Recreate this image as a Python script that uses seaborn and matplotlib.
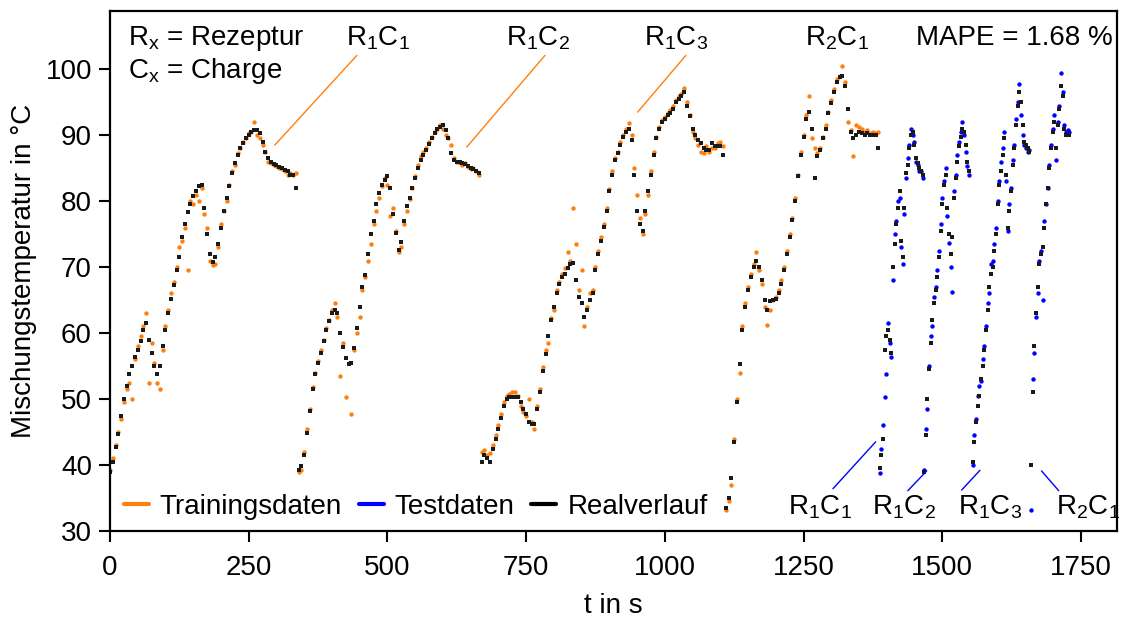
import numpy as np
import pandas as pd
import seaborn as sns
import matplotlib.pyplot as plt
from matplotlib.lines import Line2D

# Trainingsdaten (Startzeit in s, Abtastschritt 5 s)
train_names = ['R1C1', 'R1C2', 'R1C3', 'R2C1']
train_start = [0, 340, 670, 1110]
train_step = 5

real_train_r1c1 = [39.0, 40.5, 42.8, 44.7, 47.5, 50.0, 52.0, 53.8, 55.0, 56.3,
                   57.5, 58.8, 60.5, 61.5, 59.0, 57.0, 55.0, 53.8, 55.0, 58.0,
                   60.5, 63.0, 65.2, 67.3, 69.5, 71.5, 74.5, 76.5, 78.3, 79.5,
                   80.8, 81.5, 82.3, 82.5, 79.0, 75.0, 72.0, 70.8, 71.5, 73.5,
                   76.0, 78.5, 80.5, 82.3, 84.3, 85.8, 87.0, 88.0, 88.8, 89.5,
                   90.0, 90.5, 90.8, 90.8, 90.3, 89.0, 87.5, 86.5, 86.0, 85.7,
                   85.5, 85.2, 85.0, 84.7, 84.5, 84.0, 84.0, 82.0]
pred_train_r1c1 = [39.2, 41.0, 43.0, 45.0, 47.0, 49.5, 51.5, 52.5, 50.0, 56.0,
                   58.0, 59.5, 61.0, 63.0, 52.5, 58.5, 55.5, 52.5, 51.5, 57.5,
                   61.0, 63.5, 66.0, 67.8, 70.0, 73.0, 74.0, 76.0, 69.5, 80.0,
                   79.5, 81.0, 80.0, 82.0, 78.0, 76.0, 71.0, 70.3, 70.5, 73.0,
                   76.5, 78.5, 80.0, 82.5, 84.5, 85.5, 87.3, 88.0, 89.0, 89.5,
                   90.3, 90.5, 92.0, 90.0, 89.5, 88.5, 87.5, 86.0, 85.8, 85.5,
                   85.3, 85.0, 84.8, 84.5, 84.0, 84.3, 84.0, 84.3]

real_train_r1c2 = [39.2, 39.8, 41.5, 44.8, 48.2, 51.5, 53.8, 55.5, 57.0, 58.8,
                   60.4, 61.8, 63.0, 63.5, 63.0, 60.0, 57.9, 56.2, 55.3, 55.5,
                   57.8, 60.8, 64.0, 67.0, 68.8, 72.0, 75.0, 77.0, 79.5, 81.3,
                   82.5, 83.2, 83.8, 82.0, 78.0, 75.1, 72.6, 73.8, 77.0, 79.3,
                   80.5, 82.0, 83.5, 85.0, 86.3, 87.0, 87.7, 88.7, 89.6, 90.3,
                   90.9, 91.3, 91.5, 90.8, 89.5, 87.3, 86.3, 86.0, 86.0, 85.8,
                   85.6, 85.3, 85.0, 84.8, 84.5, 84.2]
pred_train_r1c2 = [39.0, 39.3, 42.0, 45.5, 48.5, 51.8, 54.0, 55.8, 57.5, 59.0,
                   60.8, 62.0, 63.5, 64.5, 62.5, 53.5, 58.5, 50.3, 55.5, 47.7,
                   57.5, 60.0, 62.5, 66.5, 68.5, 71.0, 73.5, 76.5, 78.5, 80.5,
                   82.3, 83.5, 82.5, 77.7, 79.0, 75.5, 72.3, 73.0, 76.5, 78.5,
                   80.3, 82.0, 83.8, 85.5, 86.8, 87.5, 88.0, 89.0, 89.8, 90.5,
                   91.0, 91.5, 91.0, 90.0, 89.5, 88.5, 86.5, 86.0, 85.8, 85.5,
                   85.8, 85.2, 84.8, 85.0, 84.6, 84.0]

real_train_r1c3 = [40.5, 41.5, 41.0, 40.5, 42.5, 44.0, 45.5, 47.2, 49.0, 50.0,
                   50.3, 50.3, 50.3, 50.3, 49.5, 48.5, 47.7, 46.5, 46.2, 46.2,
                   48.5, 51.0, 54.3, 56.8, 59.5, 62.0, 64.0, 66.0, 67.5, 68.5,
                   69.0, 69.8, 70.5, 70.6, 68.0, 65.5, 64.5, 62.5, 63.5, 65.0,
                   66.0, 69.5, 72.0, 74.0, 76.1, 78.5, 81.5, 84.0, 86.3, 87.3,
                   88.5, 89.8, 90.5, 91.0, 89.3, 84.0, 78.5, 76.6, 75.5, 78.5,
                   81.5, 84.0, 87.0, 89.5, 91.0, 92.0, 92.5, 93.0, 93.3, 94.0,
                   95.0, 95.5, 96.0, 96.5, 94.5, 92.9, 91.0, 90.0, 89.3, 88.8,
                   88.0, 87.8, 87.8, 88.8, 88.3, 88.3, 88.3, 87.0]
pred_train_r1c3 = [42.0, 42.3, 41.5, 41.8, 43.0, 44.5, 46.0, 47.8, 49.5, 50.5,
                   50.8, 51.0, 51.0, 50.5, 49.0, 48.0, 47.5, 50.0, 46.5, 45.5,
                   49.0, 51.5, 54.8, 57.5, 58.5, 62.3, 63.5, 66.5, 67.8, 69.0,
                   69.8, 72.3, 71.0, 79.0, 73.5, 66.5, 69.5, 61.0, 64.0, 66.0,
                   66.5, 70.0, 72.5, 74.5, 76.5, 79.0, 81.8, 84.5, 86.5, 87.5,
                   89.0, 90.0, 91.0, 91.8, 90.0, 85.0, 81.0, 77.5, 75.0, 78.0,
                   81.0, 84.5, 87.5, 89.8, 91.3, 92.3, 92.8, 93.3, 93.8, 94.5,
                   95.3, 96.0, 96.3, 97.2, 95.0, 93.0, 90.5, 89.5, 88.5, 87.5,
                   87.3, 88.3, 87.5, 88.0, 88.0, 88.8, 89.0, 88.3]

real_train_r2c1 = [33.5, 35.0, 38.0, 43.5, 49.5, 55.3, 60.5, 64.0, 66.5, 68.5,
                   70.0, 71.0, 70.0, 68.0, 65.0, 63.5, 64.8, 65.0, 65.2, 66.0,
                   67.5, 69.5, 72.0, 74.6, 77.2, 80.0, 83.8, 87.0, 89.8, 92.5,
                   93.5, 91.0, 83.5, 86.8, 87.8, 89.5, 91.0, 93.3, 94.9, 96.5,
                   98.0, 98.8, 99.0, 97.5, 94.0, 90.5, 89.5, 90.0, 90.5, 90.3,
                   90.0, 90.3, 90.0, 90.0, 90.0, 88.0]
pred_train_r2c1 = [33.2, 34.5, 37.0, 44.0, 50.0, 54.0, 61.0, 64.5, 67.0, 69.0,
                   70.5, 72.3, 69.5, 67.5, 64.0, 61.2, 63.5, 65.0, 65.5, 66.5,
                   68.0, 70.0, 72.5, 75.0, 77.5, 80.5, 84.0, 87.5, 90.0, 93.0,
                   95.9, 89.5, 88.0, 87.3, 88.0, 89.8, 91.5, 93.5, 95.3, 97.0,
                   98.5, 99.0, 100.5, 98.0, 92.0, 90.8, 86.8, 91.5, 91.3, 91.0,
                   90.5, 90.8, 90.3, 90.5, 90.3, 90.5]

# Testdaten (Startzeit in s, Abtastschritt 3 s)
test_names = ['R1C1', 'R1C2', 'R1C3', 'R2C1']
test_start = [1387, 1467, 1555, 1660]
test_step = 3

real_test_r1c1 = [39.5, 41.5, 44.0, 57.5, 59.5, 60.5, 59.0, 57.0, 70.0, 73.5,
                  76.5, 79.0, 81.5, 74.0, 71.5, 79.0, 84.3, 85.5, 88.0, 90.0,
                  90.5, 88.5, 86.5, 85.8, 85.0, 84.5, 84.0]
pred_test_r1c1 = [38.8, 42.5, 46.0, 50.3, 53.8, 61.5, 58.5, 56.3, 68.0, 75.0,
                  77.0, 80.0, 80.5, 73.0, 70.5, 78.0, 83.5, 86.5, 88.5, 91.0,
                  90.0, 89.0, 86.0, 85.5, 84.5, 84.5, 83.5]

real_test_r1c2 = [39.0, 44.5, 50.0, 54.5, 58.5, 62.0, 64.5, 66.5, 68.5, 71.5,
                  75.5, 79.5, 82.5, 84.0, 79.0, 75.0, 72.0, 74.5, 80.5, 83.5,
                  86.0, 88.3, 89.8, 91.0, 90.5, 88.5, 86.0, 84.5]
pred_test_r1c2 = [39.2, 45.5, 48.5, 55.0, 59.5, 61.0, 65.5, 67.0, 69.5, 72.5,
                  76.5, 80.5, 83.0, 85.0, 77.7, 73.6, 70.0, 66.2, 81.5, 84.0,
                  87.0, 89.0, 90.5, 92.0, 90.0, 87.5, 85.3, 84.0]

real_test_r1c3 = [40.5, 43.5, 46.5, 49.0, 50.5, 53.0, 55.0, 57.4, 60.5, 63.5,
                  67.0, 69.0, 70.0, 72.5, 75.0, 79.5, 82.5, 84.5, 87.0, 89.5,
                  84.0, 76.0, 78.5, 81.5, 85.5, 88.0, 91.5, 94.5, 96.5, 95.0,
                  91.5, 89.0, 88.5, 88.0, 87.5]
pred_test_r1c3 = [40.0, 44.5, 47.0, 50.5, 52.0, 52.8, 56.0, 58.0, 61.0, 64.5,
                  66.0, 70.5, 71.0, 73.5, 76.0, 80.0, 83.0, 86.0, 88.0, 90.5,
                  83.0, 75.5, 79.5, 82.0, 86.3, 88.5, 92.5, 95.0, 97.7, 93.0,
                  90.0, 88.5, 88.0, 87.5, 87.8]

real_test_r2c1 = [40.0, 51.0, 58.0, 63.0, 67.0, 70.5, 72.0, 73.0, 76.0, 79.5,
                  82.0, 85.0, 88.0, 90.5, 92.0, 88.0, 91.5, 94.0, 97.5, 96.0,
                  91.0, 90.0, 90.0, 90.0]
pred_test_r2c1 = [33.2, 53.0, 57.0, 62.5, 66.0, 71.0, 72.5, 65.0, 77.0, 79.5,
                  82.0, 85.5, 88.5, 91.0, 93.0, 86.3, 92.0, 94.5, 99.5, 96.5,
                  91.5, 90.5, 90.8, 90.5]

real_train = [real_train_r1c1, real_train_r1c2, real_train_r1c3, real_train_r2c1]
pred_train = [pred_train_r1c1, pred_train_r1c2, pred_train_r1c3, pred_train_r2c1]
real_test = [real_test_r1c1, real_test_r1c2, real_test_r1c3, real_test_r2c1]
pred_test = [pred_test_r1c1, pred_test_r1c2, pred_test_r1c3, pred_test_r2c1]


def build(starts, step, reals, preds, kind):
    rows = []
    for t0, r, p in zip(starts, reals, preds):
        t = t0 + step * np.arange(len(r))
        rows.append(pd.DataFrame({'t': t, 'T': r, 'typ': 'Realverlauf'}))
        rows.append(pd.DataFrame({'t': t, 'T': p, 'typ': kind}))
    return pd.concat(rows, ignore_index=True)


df = pd.concat([build(train_start, train_step, real_train, pred_train, 'Trainingsdaten'),
                build(test_start, test_step, real_test, pred_test, 'Testdaten')],
               ignore_index=True)

c_train = '#ff7f0e'
c_test = '#0000ff'
c_real = '#1a1a1a'

sns.set_style('ticks')
plt.rcParams['font.family'] = ['Liberation Sans', 'DejaVu Sans']
plt.rcParams['mathtext.fontset'] = 'custom'
plt.rcParams['mathtext.rm'] = 'Liberation Sans'
for k in ['text.color', 'axes.labelcolor', 'xtick.color', 'ytick.color']:
    plt.rcParams[k] = 'black'
fs = 20

fig = plt.figure(figsize=(11.34, 6.21), dpi=100)
ax = fig.add_axes([0.097, 0.145, 0.888, 0.837])

sns.scatterplot(data=df[df.typ == 'Trainingsdaten'], x='t', y='T', color=c_train,
                s=10, linewidth=0, ax=ax, legend=False)
sns.scatterplot(data=df[df.typ == 'Testdaten'], x='t', y='T', color=c_test,
                s=10, linewidth=0, ax=ax, legend=False)
sns.scatterplot(data=df[df.typ == 'Realverlauf'], x='t', y='T', color=c_real,
                marker='s', s=6, linewidth=0, ax=ax, legend=False)

ax.set_xlim(0, 1815)
ax.set_ylim(30, 108.8)
ax.set_xticks([0, 250, 500, 750, 1000, 1250, 1500, 1750])
ax.set_yticks([30, 40, 50, 60, 70, 80, 90, 100])
ax.tick_params(direction='out', length=8, width=1.5, labelsize=fs)
ax.tick_params(axis='x', pad=9)
ax.tick_params(axis='y', pad=5)
for sp in ax.spines.values():
    sp.set_linewidth(1.6)
    sp.set_color('black')
ax.set_xlabel('t in s', fontsize=fs, labelpad=9)
ax.set_ylabel('Mischungstemperatur in °C', fontsize=fs, labelpad=6)

# Beschriftungen
ax.text(32, 104.7, r'R$_\mathregular{x}$ = Rezeptur', fontsize=fs, va='center')
ax.text(32, 99.8, r'C$_\mathregular{x}$ = Charge', fontsize=fs, va='center')
ax.text(1808, 104.7, 'MAPE = 1.68 %', fontsize=fs, va='center', ha='right')

top_labels = [('R$_\\mathregular{1}$C$_\\mathregular{1}$', 483, (445, 102.1), (297, 88.5)),
              ('R$_\\mathregular{1}$C$_\\mathregular{2}$', 771, (784, 102.1), (643, 88.2)),
              ('R$_\\mathregular{1}$C$_\\mathregular{3}$', 1020, (1038, 102.1), (951, 93.5)),
              ('R$_\\mathregular{2}$C$_\\mathregular{1}$', 1310, None, None)]
for lab, x, p0, p1 in top_labels:
    ax.text(x, 104.7, lab, fontsize=fs, va='center', ha='center')
    if p0 is not None:
        ax.plot([p0[0], p1[0]], [p0[1], p1[1]], color=c_train, lw=1)

bottom_labels = [('R$_\\mathregular{1}$C$_\\mathregular{1}$', 1279, (1303, 36.4), (1380, 43.5)),
                 ('R$_\\mathregular{1}$C$_\\mathregular{2}$', 1432, (1438, 36.1), (1472, 39.1)),
                 ('R$_\\mathregular{1}$C$_\\mathregular{3}$', 1586, (1535, 36.2), (1568, 39.2)),
                 ('R$_\\mathregular{2}$C$_\\mathregular{1}$', 1762, (1710, 36.1), (1679, 39.1))]
for lab, x, p0, p1 in bottom_labels:
    ax.text(x, 33.6, lab, fontsize=fs, va='center', ha='center')
    ax.plot([p0[0], p1[0]], [p0[1], p1[1]], color=c_test, lw=1)

handles = [Line2D([], [], color=c_train, lw=3),
           Line2D([], [], color=c_test, lw=3),
           Line2D([], [], color='black', lw=3)]
ax.legend(handles, ['Trainingsdaten', 'Testdaten', 'Realverlauf'], ncol=3,
          frameon=False, fontsize=fs, loc='center left', bbox_to_anchor=(0.008, 0.046),
          borderaxespad=0, borderpad=0.2, handlelength=0.9, handletextpad=0.4,
          columnspacing=0.6)

fig.savefig('out.png', dpi=100)
